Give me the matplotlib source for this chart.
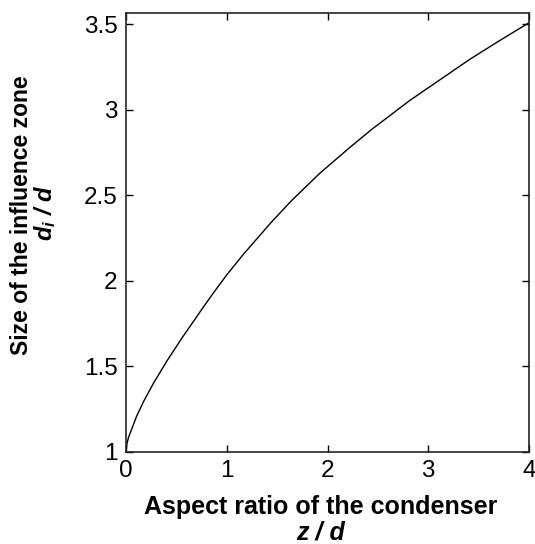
import matplotlib
matplotlib.use("Agg")
import matplotlib.pyplot as plt

# Data
aspect_ratio = [0.0, 0.01, 0.025, 0.053, 0.106, 0.179, 0.271, 0.404, 0.56, 0.76,
                0.85, 1.0, 1.165, 1.446, 1.645, 1.926, 2.223, 2.439, 2.819,
                3.117, 3.414, 3.712, 4.0]
influence = [1.0, 1.05, 1.085, 1.128, 1.21, 1.30, 1.40, 1.53, 1.67, 1.84,
             1.915, 2.035, 2.155, 2.345, 2.47, 2.63, 2.78, 2.885, 3.055,
             3.175, 3.295, 3.405, 3.508]
xticks = [0, 1, 2, 3, 4]
yticks = [1, 1.5, 2, 2.5, 3, 3.5]
ytick_labels = ["1", "1.5", "2", "2.5", "3", "3.5"]

plt.rcParams['font.family'] = ['Liberation Sans', 'DejaVu Sans']
plt.rcParams['mathtext.fontset'] = 'custom'
plt.rcParams['mathtext.it'] = 'Liberation Sans:bold:italic'
plt.rcParams['mathtext.rm'] = 'Liberation Sans:bold:italic'

fig = plt.figure(figsize=(5.35, 5.44), dpi=100)
ax = fig.add_axes([126/535, 1-452/544, (529-126)/535, (452-13)/544])

ax.plot(aspect_ratio, influence, color='black', linewidth=1.0)
ax.set_xlim(0, 4)
ax.set_ylim(1, 3.565)
ax.set_xticks(xticks)
ax.set_xticklabels([str(t) for t in xticks])
ax.set_yticks(yticks)
ax.set_yticklabels(ytick_labels)
ax.tick_params(direction='in', length=5, width=1, top=True, right=True,
               labelsize=17.5, colors='black')
ax.tick_params(axis='x', pad=6)
ax.tick_params(axis='y', pad=6)
for s in ax.spines.values():
    s.set_linewidth(1.2)
    s.set_color('#222222')

fig.text(321/535, 1-514/544, "Aspect ratio of the condenser", ha='center', va='baseline',
         fontsize=18, fontweight='bold')
fig.text(321/535, 1-540/544, "z / d", ha='center', va='baseline',
         fontsize=18, fontweight='bold', fontstyle='italic')

fig.text(22/535, 1-215/544, "Size of the influence zone", ha='center', va='center',
         rotation=90, fontsize=16.5, fontweight='bold')
fig.text(45/535, 1-213/544, r"$d_i$ / $d$", ha='center', va='center',
         rotation=90, fontsize=17, fontweight='bold', fontstyle='italic')

fig.savefig("out.png", dpi=100)
